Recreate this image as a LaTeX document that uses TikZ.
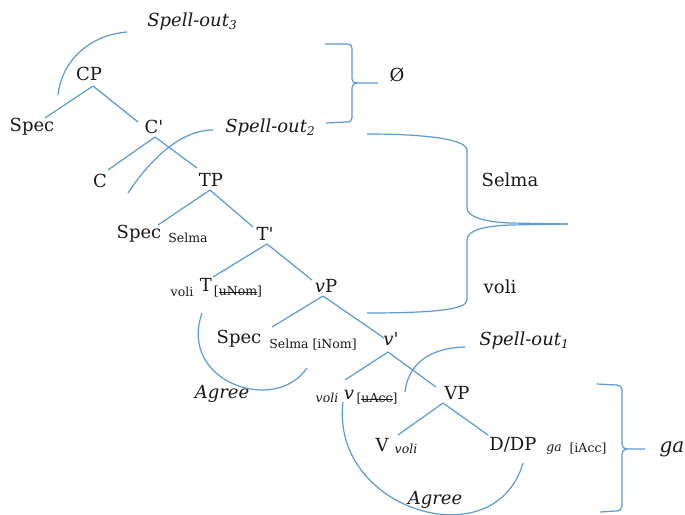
\documentclass[tikz,border=0pt]{standalone}
\usepackage{fontspec}
\setmainfont{DejaVu Serif}
\usetikzlibrary{calc}

\definecolor{linkblue}{HTML}{5B9BD5}
\definecolor{ink}{HTML}{1A1A1A}

% lowered index after "Spell-out"
\newcommand\spellidx[1]{\raisebox{-3pt}{\fontsize{12}{12}\selectfont #1}}
% struck-through feature value
\newsavebox\strikebox
\newcommand\strikefeat[1]{\sbox\strikebox{#1}\rlap{\rule[0.27em]{\wd\strikebox}{0.7pt}}\usebox\strikebox}
% bar level prime
\newcommand\barmark{\textquotesingle}

\tikzset{
  lbl/.style={inner sep=0pt, text=ink, font=\fontsize{18}{20}\selectfont},
  ilbl/.style={inner sep=0pt, text=ink, font=\fontsize{18}{20}\selectfont\itshape},
  sub/.style={inner sep=0pt, text=ink, font=\fontsize{12.5}{14}\selectfont},
  isub/.style={inner sep=0pt, text=ink, font=\fontsize{12.5}{14}\selectfont\itshape},
  branch/.style={draw=linkblue, line width=1.2pt},
  arcline/.style={draw=linkblue, line width=1.2pt},
  brace/.style={draw=linkblue, line width=1.2pt, line join=round},
}

\begin{document}
\begin{tikzpicture}[x=1pt, y=-1pt]
\useasboundingbox (0,0) rectangle (685,514);
\fill[white] (0,0) rectangle (685,514);

% ---- tree labels ----
\node[lbl] (cp) at (89,74) {CP};
\node[lbl] (specA) at (32,127) {Spec};
\node[lbl] (cbar) at (154,127) {C\barmark};
\node[lbl] (c) at (100,181) {C};
\node[lbl] (tp) at (211,180) {TP};
\node[lbl] (specB) at (139,234) {Spec};
\node[sub] (selmaB) at (188,238) {Selma};
\node[lbl] (tbar) at (265,234) {T\barmark};
\node[sub] (voliT) at (182,292) {voli};
\node[lbl] (t) at (206,285) {T};
\node[sub] (unom) at (238,292) {[\strikefeat{uNom}]};
\node[lbl] (vp) at (326,286) {\textit{v}P};
\node[lbl] (specC) at (239,339) {Spec};
\node[sub] (selmaC) at (313,345) {Selma [iNom]};
\node[lbl] (vbar) at (391,339) {\textit{v}\barmark};
\node[isub] (voliv) at (327,398) {voli};
\node[ilbl] (v) at (349,395) {v};
\node[sub] (uacc) at (377,399) {[\strikefeat{uAcc}]};
\node[lbl] (vphr) at (457,393) {VP};
\node[lbl] (verb) at (382,445) {V};
\node[isub] (voliV) at (406,449) {voli};
\node[lbl] (ddp) at (513,445) {D/DP};
\node[isub] (gaS) at (554,450) {ga};
\node[sub] (iacc) at (588,449) {[iAcc]};

% ---- annotations ----
\node[ilbl] (so3) at (192,22) {Spell-out\spellidx{3}};
\node[ilbl] (so2) at (270,128) {Spell-out\spellidx{2}};
\node[ilbl] (so1) at (524,341) {Spell-out\spellidx{1}};
\node[ilbl] (agreeA) at (222,394) {Agree};
\node[ilbl] (agreeB) at (435,500) {Agree};
\node[lbl] (empty) at (397,75) {Ø};
\node[lbl] (selmaR) at (510,180) {Selma};
\node[lbl] (voliR) at (500,287) {voli};
\node[ilbl, font=\fontsize{20}{22}\selectfont\itshape] (gaR) at (672,449) {ga};

% ---- branches ----
\draw[branch] ([shift={(4,12)}]cp.center) -- ([shift={(13,-9)}]specA.center);
\draw[branch] ([shift={(4,12)}]cp.center) -- ([shift={(-16,-5)}]cbar.center);
\draw[branch] ([shift={(1,10)}]cbar.center) -- ([shift={(8,-11)}]c.center);
\draw[branch] ([shift={(1,10)}]cbar.center) -- ([shift={(-14,-12)}]tp.center);
\draw[branch] ([shift={(-1,10)}]tp.center) -- ([shift={(19,-9)}]specB.center);
\draw[branch] ([shift={(-1,10)}]tp.center) -- ([shift={(-12,-7)}]tbar.center);
\draw[branch] ([shift={(2,10)}]tbar.center) -- ([shift={(7,-8)}]t.center);
\draw[branch] ([shift={(2,10)}]tbar.center) -- ([shift={(-14,-6)}]vp.center);
\draw[branch] ([shift={(-3,10)}]vp.center) -- ([shift={(33,-12)}]specC.center);
\draw[branch] ([shift={(-3,10)}]vp.center) -- ([shift={(-7,-1)}]vbar.center);
\draw[branch] ([shift={(-3,13)}]vbar.center) -- ([shift={(-4,-15)}]v.center);
\draw[branch] ([shift={(-3,13)}]vbar.center) -- ([shift={(-21,-6)}]vphr.center);
\draw[branch] ([shift={(-14,10)}]vphr.center) -- ([shift={(16,-10)}]verb.center);
\draw[branch] ([shift={(-14,10)}]vphr.center) -- ([shift={(-25,-10)}]ddp.center);

% ---- spell-out arcs ----
\draw[arcline] (58,95) .. controls (62,60) and (90,35) .. (127,32);
\draw[arcline] (128,193) .. controls (150,160) and (180,130) .. (213,130);
\draw[arcline] (405,392) .. controls (408,365) and (428,348) .. (465,347);

% ---- agree arcs ----
\draw[arcline] (202,313) .. controls (178,382) and (275,415) .. (307,368);
\draw[arcline] (343,402) .. controls (330,510) and (495,560) .. (523,463);

% ---- braces ----
\draw[brace] (325,44) -- (348,44) .. controls (351,44) and (352,46) .. (352,49) -- (352,79)
  .. controls (352,82) and (354,83) .. (357,83) -- (378,83);
\draw[brace] (357,83) .. controls (354,83) and (352,85) .. (352,88) -- (352,118)
  .. controls (352,121) and (350,122) .. (346,122) -- (326,123);

\draw[brace] (367,134) .. controls (430,134) and (467,140) .. (467,150) -- (467,208)
  .. controls (467,217) and (485,222) .. (510,223) -- (568,224);
\draw[brace] (568,224) -- (510,225) .. controls (485,226) and (467,230) .. (467,240) -- (467,300)
  .. controls (467,310) and (430,313) .. (367,313);

\draw[brace] (597,384) -- (617,385) .. controls (620,385) and (622,387) .. (622,390) -- (622,444)
  .. controls (622,447) and (624,449) .. (627,449) -- (645,449);
\draw[brace] (627,449) .. controls (624,449) and (622,451) .. (622,454) -- (622,506)
  .. controls (622,509) and (620,511) .. (616,511) -- (600,512);
\end{tikzpicture}
\end{document}
